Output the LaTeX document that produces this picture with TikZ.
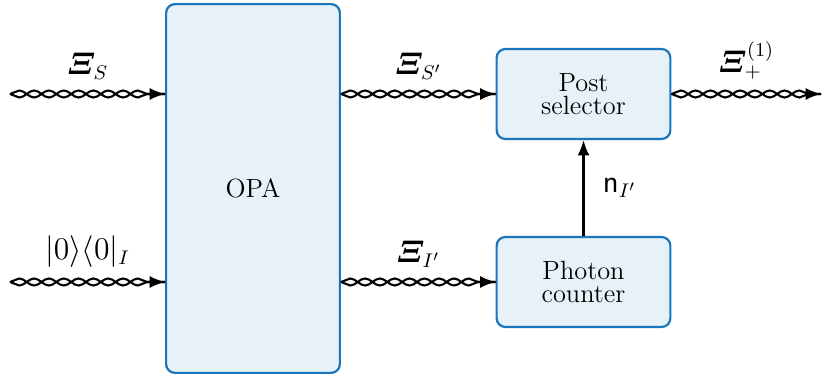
\documentclass[tikz,border=0pt]{standalone}
\usepackage{amsmath,amssymb}
\usepackage{bm}
\usepackage{tikz}
\usetikzlibrary{positioning,arrows.meta,decorations.pathmorphing,decorations.markings}
\definecolor{boxfill}{HTML}{E6F1F8}
\definecolor{boxline}{HTML}{1B75BC}

\begin{document}
\begin{tikzpicture}[
  every node/.style={font=\large},
  lbl/.style={font=\fontsize{13.4}{16}\selectfont},
  block/.style={draw=boxline, fill=boxfill, line width=1pt, rectangle,
                rounded corners=4pt, minimum width=2.78cm, align=center},
  strand/.style={draw, line width=0.95pt, decorate,
                 decoration={snake, amplitude=1.6pt, segment length=13.5pt, post length=5pt, #1}},
  twist/.style={postaction={strand={}}, postaction={strand={mirror}},
                postaction={decorate, decoration={markings,
                  mark=at position 1 with {\arrow[line width=0.9pt]{Latex[length=7pt,width=5.5pt]}}}}}
]
  \useasboundingbox (0,0) rectangle (13.152,-6.064);

  \node[block, minimum height=5.9cm]  (opa)   at (4.048,-3.016) {OPA};
  \node[block, minimum height=1.44cm] (post)  at (9.336,-1.504) {Post\\[-3.6pt]selector};
  \node[block, minimum height=1.44cm] (count) at (9.336,-4.512) {Photon\\[-3.6pt]counter};

  \coordinate (inS) at (0.16,-1.504);
  \coordinate (inI) at (0.16,-4.512);
  \coordinate (out) at (13.136,-1.504);

  \path[twist] (inS) -- node[lbl, above=3pt]{$\boldsymbol{\varXi}_S$} (inS -| opa.west);
  \path[twist] (inI) -- node[lbl, above=3pt]{$|0\rangle\langle0|_I$} (inI -| opa.west);
  \path[twist] (opa.east |- post.west) -- node[lbl, above=3pt]{$\boldsymbol{\varXi}_{S'}$} (post.west);
  \path[twist] (opa.east |- count.west) -- node[lbl, above=3pt]{$\boldsymbol{\varXi}_{I'}$} (count.west);
  \path[twist] (post.east) -- node[lbl, above=3pt]{$\boldsymbol{\varXi}_+^{(1)}$} (out);

  \draw[-{Latex[length=7pt,width=5.5pt]}, line width=1pt] (count) -- node[lbl, right=5pt]{$\mathsf{n}_{I'}$} (post);
\end{tikzpicture}
\end{document}
